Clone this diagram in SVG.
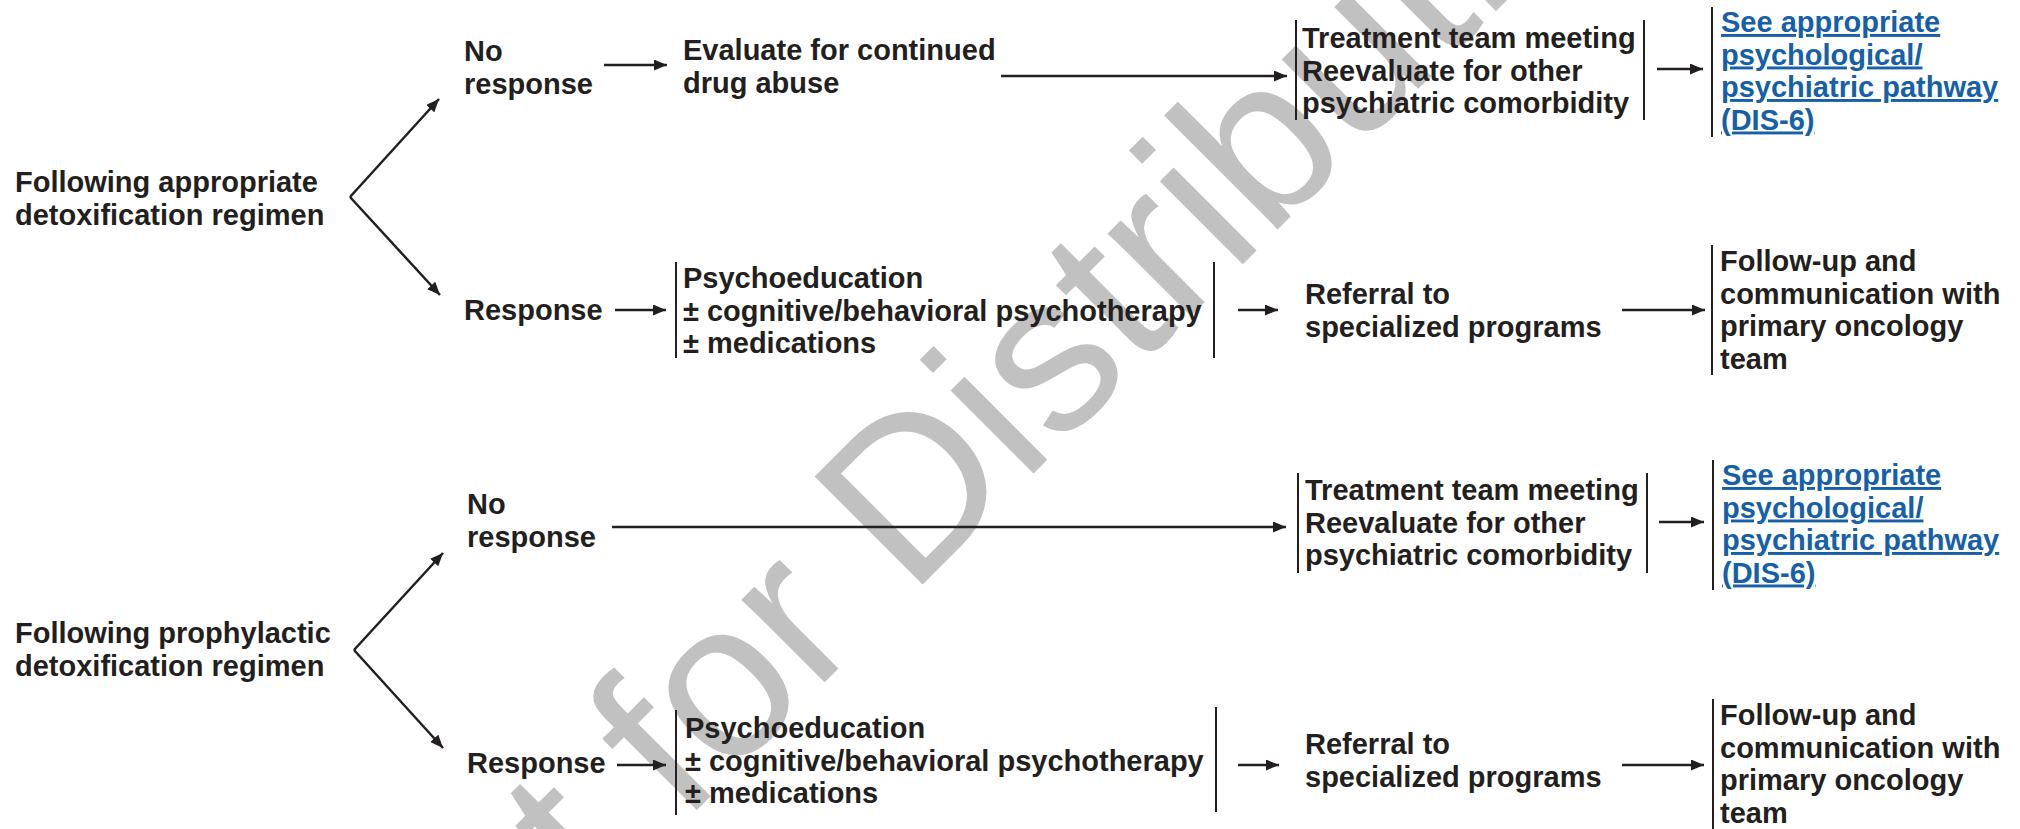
<svg xmlns="http://www.w3.org/2000/svg" width="2020" height="829" viewBox="0 0 2020 829">
<style>
text{font-family:"Liberation Sans",Arial,Helvetica,sans-serif;font-weight:bold;font-size:29px;fill:#231f20}
.link{fill:#1560a8;text-decoration:underline}
.br{stroke:#231f20;stroke-width:2;fill:none}
.ar{stroke:#231f20;stroke-width:2.5;fill:none;marker-end:url(#ah)}
.wm{font-weight:normal;font-size:222px;fill:#c1c1c1}
</style>
<defs>
<marker id="ah" markerUnits="userSpaceOnUse" markerWidth="14" markerHeight="12" refX="13" refY="5.5" orient="auto">
<path d="M0,0 L13,5.5 L0,11 z" fill="#231f20"/>
</marker>
</defs>
<rect width="2020" height="829" fill="#ffffff"/>
<text class="wm" transform="translate(395,1112) rotate(-45)">Not for Distribution</text>

<g id="connectors">
<path class="ar" d="M350,197 L439,99"/>
<path class="ar" d="M350,197 L440,295"/>
<path class="ar" d="M604,65 L667,65"/>
<path class="ar" d="M1001,76 L1287,76"/>
<path class="ar" d="M1657,69 L1703,69"/>
<path class="ar" d="M615,310 L666,310"/>
<path class="ar" d="M1238,310 L1278,310"/>
<path class="ar" d="M1622,310 L1705,310"/>
<path class="ar" d="M354,650 L443,553"/>
<path class="ar" d="M354,650 L443,748"/>
<path class="ar" d="M612,527 L1286,527"/>
<path class="ar" d="M1659,522 L1704,522"/>
<path class="ar" d="M617,765 L666,765"/>
<path class="ar" d="M1238,765 L1279,765"/>
<path class="ar" d="M1622,765 L1704,765"/>
</g>

<g id="start-appropriate"><text x="15" y="192">Following appropriate</text><text x="15" y="224.5">detoxification regimen</text></g>
<g id="no-response-1"><text x="464" y="61">No</text><text x="464" y="93.5">response</text></g>
<g id="evaluate"><text x="683" y="60">Evaluate for continued</text><text x="683" y="92.5">drug abuse</text></g>
<g id="treatment-1"><line class="br" x1="1296" y1="20" x2="1296" y2="120"/><line class="br" x1="1644" y1="20" x2="1644" y2="120"/>
<text x="1302" y="48">Treatment team meeting</text><text x="1302" y="80.5">Reevaluate for other</text><text x="1302" y="113">psychiatric comorbidity</text></g>
<g id="pathway-1"><line class="br" x1="1712" y1="7" x2="1712" y2="137"/>
<text class="link" x="1721" y="32">See appropriate</text><text class="link" x="1721" y="64.5">psychological/</text><text class="link" x="1721" y="97">psychiatric pathway</text><text class="link" x="1721" y="129.5">(DIS-6)</text></g>
<g id="response-1"><text x="464" y="320">Response</text></g>
<g id="psychoeducation-1"><line class="br" x1="676" y1="262" x2="676" y2="358"/><line class="br" x1="1214" y1="262" x2="1214" y2="358"/>
<text x="683" y="288">Psychoeducation</text><text x="683" y="320.5">± cognitive/behavioral psychotherapy</text><text x="683" y="353">± medications</text></g>
<g id="referral-1"><text x="1305" y="304">Referral to</text><text x="1305" y="336.5">specialized programs</text></g>
<g id="followup-1"><line class="br" x1="1712" y1="245" x2="1712" y2="375"/>
<text x="1720" y="271">Follow-up and</text><text x="1720" y="303.5">communication with</text><text x="1720" y="336">primary oncology</text><text x="1720" y="368.5">team</text></g>

<g id="start-prophylactic"><text x="15" y="643">Following prophylactic</text><text x="15" y="675.5">detoxification regimen</text></g>
<g id="no-response-2"><text x="467" y="514">No</text><text x="467" y="546.5">response</text></g>
<g id="treatment-2"><line class="br" x1="1298" y1="473" x2="1298" y2="573"/><line class="br" x1="1647" y1="473" x2="1647" y2="573"/>
<text x="1305" y="500">Treatment team meeting</text><text x="1305" y="532.5">Reevaluate for other</text><text x="1305" y="565">psychiatric comorbidity</text></g>
<g id="pathway-2"><line class="br" x1="1713" y1="460" x2="1713" y2="590"/>
<text class="link" x="1722" y="485">See appropriate</text><text class="link" x="1722" y="517.5">psychological/</text><text class="link" x="1722" y="550">psychiatric pathway</text><text class="link" x="1722" y="582.5">(DIS-6)</text></g>
<g id="response-2"><text x="467" y="773">Response</text></g>
<g id="psychoeducation-2"><line class="br" x1="676" y1="710" x2="676" y2="815"/><line class="br" x1="1216" y1="707" x2="1216" y2="812"/>
<text x="685" y="738">Psychoeducation</text><text x="685" y="770.5">± cognitive/behavioral psychotherapy</text><text x="685" y="803">± medications</text></g>
<g id="referral-2"><text x="1305" y="754">Referral to</text><text x="1305" y="786.5">specialized programs</text></g>
<g id="followup-2"><line class="br" x1="1713" y1="699" x2="1713" y2="829"/>
<text x="1720" y="725">Follow-up and</text><text x="1720" y="757.5">communication with</text><text x="1720" y="790">primary oncology</text><text x="1720" y="822.5">team</text></g>
</svg>
